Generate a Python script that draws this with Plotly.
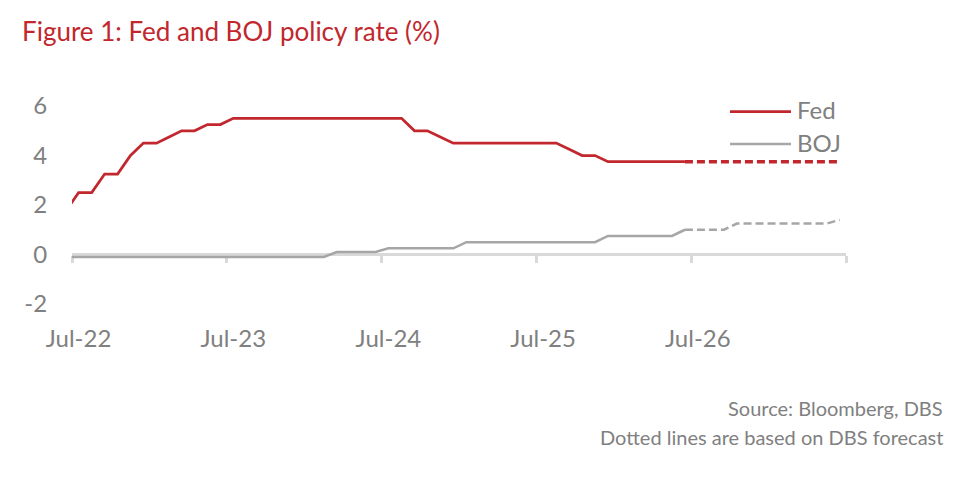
import pandas as pd
import plotly.graph_objects as go

# ---- data (monthly, upper bound of policy rate, %) ----
actual_months = pd.period_range("2022-06", "2026-06", freq="M")
fed_actual = [1.75,
              2.5, 2.5, 3.25, 3.25, 4.0, 4.5,
              4.5, 4.75, 5.0, 5.0, 5.25, 5.25, 5.5, 5.5, 5.5, 5.5, 5.5, 5.5,
              5.5, 5.5, 5.5, 5.5, 5.5, 5.5, 5.5, 5.5, 5.0, 5.0, 4.75, 4.5,
              4.5, 4.5, 4.5, 4.5, 4.5, 4.5, 4.5, 4.5, 4.25, 4.0, 4.0, 3.75,
              3.75, 3.75, 3.75, 3.75, 3.75, 3.75]
boj_actual = [-0.1,
              -0.1, -0.1, -0.1, -0.1, -0.1, -0.1,
              -0.1, -0.1, -0.1, -0.1, -0.1, -0.1, -0.1, -0.1, -0.1, -0.1, -0.1, -0.1,
              -0.1, -0.1, 0.1, 0.1, 0.1, 0.1, 0.25, 0.25, 0.25, 0.25, 0.25, 0.25,
              0.5, 0.5, 0.5, 0.5, 0.5, 0.5, 0.5, 0.5, 0.5, 0.5, 0.5, 0.75,
              0.75, 0.75, 0.75, 0.75, 0.75, 1.0]

forecast_months = pd.period_range("2026-06", "2027-06", freq="M")
fed_forecast = [3.75] * 13
boj_forecast = [1.0, 1.0, 1.0, 1.0, 1.25, 1.25, 1.25, 1.25, 1.25, 1.25, 1.25, 1.25, 1.4]

tick_years = [2022, 2023, 2024, 2025, 2026]
tick_labels = ["Jul-22", "Jul-23", "Jul-24", "Jul-25", "Jul-26"]
y_ticks = [-2, 0, 2, 4, 6]
y_tick_labels = ["-2", "0", "2", "4", "6"]

title_text = "Figure 1: Fed and BOJ policy rate (%)"
source_text = "Source: Bloomberg, DBS"
note_text = "Dotted lines are based on DBS forecast"

# ---- styling ----
RED = "#c1272d"
GREY_LINE = "#a6a6a6"
AXIS_GREY = "#d9d9d9"
TEXT_GREY = "#808080"
FONT = "Lato, 'Open Sans', sans-serif"

# page is rendered with an 8px body margin, so the figure is 8px smaller
W, H = 959, 472
L, R, T, B = 64, 121, 98, 176
PW, PH = W - L - R, H - T - B


def mid_month(periods):
    start = periods.to_timestamp(how="start")
    end = periods.to_timestamp(how="end")
    return start + (end - start) / 2


def px_x(page_x):
    return (page_x - 8 - L) / PW


def px_y(page_y):
    return (H - B - (page_y - 8)) / PH


x_act = mid_month(actual_months)
x_fc = mid_month(forecast_months)

fig = go.Figure()
fig.add_trace(go.Scatter(x=x_act, y=boj_actual, mode="lines", name="BOJ",
                         line=dict(color=GREY_LINE, width=2.5), showlegend=False))
fig.add_trace(go.Scatter(x=x_act, y=fed_actual, mode="lines", name="Fed",
                         line=dict(color=RED, width=2.75), showlegend=False))
fig.add_trace(go.Scatter(x=x_fc, y=boj_forecast, mode="lines", name="BOJ forecast",
                         xaxis="x2",
                         line=dict(color=GREY_LINE, width=2.5, dash="8px,4px"),
                         showlegend=False))
fig.add_trace(go.Scatter(x=x_fc, y=fed_forecast, mode="lines", name="Fed forecast",
                         xaxis="x2",
                         line=dict(color=RED, width=3.5, dash="8px,4px"),
                         showlegend=False))

x_range = [pd.Timestamp("2022-07-01"), pd.Timestamp("2027-07-01")]
y_range = [-2, 6]

fig.update_layout(
    width=W, height=H,
    margin=dict(l=L, r=R, t=T, b=B),
    paper_bgcolor="white", plot_bgcolor="white",
    font=dict(family=FONT, color=TEXT_GREY),
    showlegend=False,
    title=dict(text=title_text, x=14 / W, xref="container", xanchor="left",
               y=1 - 24 / H, yref="container", yanchor="middle",
               font=dict(family=FONT, size=26, color=RED)),
    xaxis=dict(range=x_range, showgrid=False, zeroline=False, showline=False,
               tickmode="array",
               tickvals=mid_month(pd.PeriodIndex([f"{y}-07" for y in tick_years], freq="M")),
               ticktext=tick_labels, ticks="outside", ticklen=13,
               tickcolor="rgba(0,0,0,0)", tickfont=dict(size=24, color=TEXT_GREY)),
    xaxis2=dict(range=x_range, matches="x", overlaying="x", anchor="free",
                position=(0 - y_range[0]) / (y_range[1] - y_range[0]),
                showgrid=False, zeroline=False, showline=False,
                tickmode="array",
                tickvals=[pd.Timestamp(f"{y}-07-01") for y in tick_years + [2027]],
                ticks="outside", ticklen=7, tickwidth=3, tickcolor=AXIS_GREY,
                showticklabels=False, layer="below traces"),
    yaxis=dict(range=y_range, showgrid=False, showline=False,
               zeroline=True, zerolinecolor=AXIS_GREY, zerolinewidth=3,
               tickmode="array", tickvals=y_ticks, ticktext=y_tick_labels,
               ticks="outside", ticklen=19, tickcolor="rgba(0,0,0,0)",
               tickfont=dict(size=24, color=TEXT_GREY)),
)

# custom legend (swatch lines + labels) in the top-right of the plot area
legend_items = [("Fed", RED, 2.75, 111.5), ("BOJ", GREY_LINE, 2.5, 144)]
for label, color, width, page_y in legend_items:
    fig.add_shape(type="line", xref="paper", yref="paper",
                  x0=px_x(730), x1=px_x(791), y0=px_y(page_y), y1=px_y(page_y),
                  line=dict(color=color, width=width))
    fig.add_annotation(text=label, xref="paper", yref="paper",
                       x=px_x(795), y=px_y(page_y - 2), xanchor="left", yanchor="middle",
                       showarrow=False, font=dict(size=24, color=TEXT_GREY))

fig.add_annotation(text=source_text, xref="paper", yref="paper",
                   x=px_x(945), y=px_y(408), xanchor="right",
                   yanchor="middle", showarrow=False,
                   font=dict(size=20, color=TEXT_GREY))
fig.add_annotation(text=note_text, xref="paper", yref="paper",
                   x=px_x(945), y=px_y(437), xanchor="right",
                   yanchor="middle", showarrow=False,
                   font=dict(size=20, color=TEXT_GREY))

fig.write_html("out.html")
